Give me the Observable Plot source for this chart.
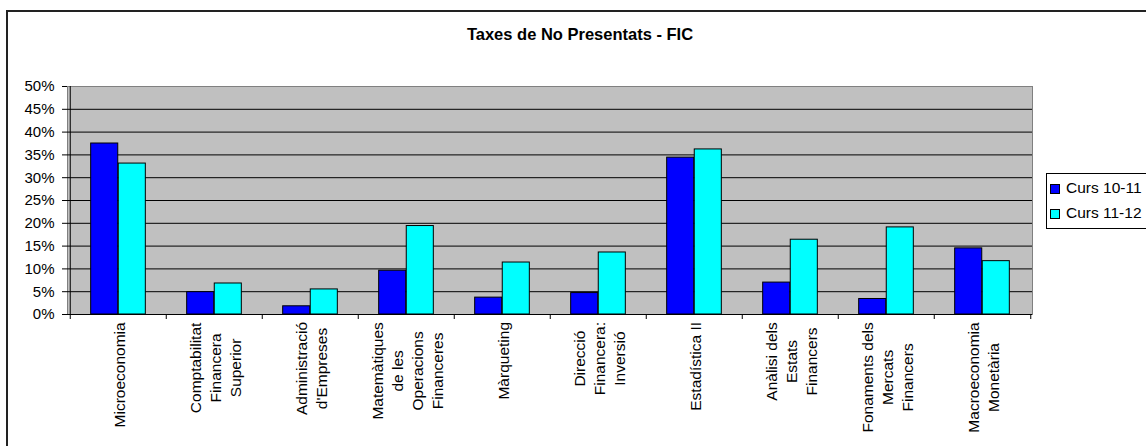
<!DOCTYPE html>
<html><head><meta charset="utf-8">
<script src="https://cdn.jsdelivr.net/npm/d3@7"></script>
<script src="https://cdn.jsdelivr.net/npm/@observablehq/plot@0.6"></script>
<style>
body{margin:0;background:#fff;}
#wrap{position:relative;width:1146px;height:446px;overflow:hidden;font-family:"Liberation Sans",Arial,sans-serif;color:#000;}
#border{position:absolute;left:6px;top:10px;width:1200px;height:500px;border:2px solid #222;box-sizing:border-box;}
#chart{position:absolute;left:0;top:0;}
#title{position:absolute;left:0;width:1160px;top:24px;text-align:center;font-weight:bold;font-size:16.5px;line-height:20px;}
#legend{position:absolute;left:1046px;top:173px;width:130px;height:56px;border:1px solid #000;background:#fff;box-sizing:border-box;font-size:15.5px;}
#legend .item{position:absolute;left:3px;height:20px;line-height:20px;white-space:nowrap;}
#legend .sw{display:inline-block;width:10px;height:10px;border:1px solid #000;box-sizing:border-box;margin-right:6px;vertical-align:-1px;}
</style>
</head><body>
<div id="wrap">
  <div id="border"></div>
  <div id="chart"></div>
  <div id="title"></div>
  <div id="legend"></div>
</div>
<script>
const titleText = "Taxes de No Presentats - FIC";
const categories = [
  "Microeconomia",
  "Comptabilitat\nFinancera\nSuperior",
  "Administració\nd'Empreses",
  "Matemàtiques\nde les\nOperacions\nFinanceres",
  "Màrqueting",
  "Direcció\nFinancera:\nInversió",
  "Estadística II",
  "Anàlisi dels\nEstats\nFinancers",
  "Fonaments dels\nMercats\nFinancers",
  "Macroeconomia\nMonetària"
];
const curs1011 = [0.375, 0.049, 0.018, 0.096, 0.037, 0.047, 0.344, 0.070, 0.034, 0.145];
const curs1112 = [0.331, 0.068, 0.055, 0.194, 0.114, 0.136, 0.362, 0.164, 0.191, 0.117];
const seriesNames = ["Curs 10-11", "Curs 11-12"];
const seriesColors = ["#0000FF", "#00FFFF"];
const yTicks = [0, 0.05, 0.10, 0.15, 0.20, 0.25, 0.30, 0.35, 0.40, 0.45, 0.50];

const W = 1146, H = 446, mL = 67, mR = 114, mT = 86, mB = 132;
const step = (W - mL - mR) / categories.length;
const bw = step / 3.5, outer = bw * 0.75;

const data = categories.flatMap((c, i) => [
  {cat: c, series: seriesNames[0], v: curs1011[i]},
  {cat: c, series: seriesNames[1], v: curs1112[i]}
]);

const plot = Plot.plot({
  width: W, height: H,
  marginLeft: mL, marginRight: mR, marginTop: mT, marginBottom: mB,
  style: {fontFamily: "'Liberation Sans', Arial, sans-serif", fontSize: "15px", background: "transparent", color: "#000", overflow: "visible"},
  x: {domain: categories, padding: 0},
  y: {domain: [0, 0.5]},
  color: {domain: seriesNames, range: seriesColors},
  marks: [
    Plot.frame({fill: "#c0c0c0", stroke: "#808080"}),
    Plot.ruleY(yTicks.filter(t => t > 0 && t < 0.5), {stroke: "#000"}),
    Plot.barY(data.filter(d => d.series === seriesNames[0]), {x: "cat", y: "v", fill: "series", stroke: "#000", strokeWidth: 1, insetLeft: outer, insetRight: step - outer - bw}),
    Plot.barY(data.filter(d => d.series === seriesNames[1]), {x: "cat", y: "v", fill: "series", stroke: "#000", strokeWidth: 1, insetLeft: outer + bw, insetRight: outer}),
    Plot.ruleY([0], {stroke: "#000"}),
    Plot.ruleX([categories[0]], {x: d => d, dx: -step / 2, stroke: "#000"}),
    Plot.ruleX(categories, {x: d => d, dx: -step / 2, y1: 0, y2: 0, insetBottom: -5, stroke: "#000"}),
    Plot.ruleX([categories[categories.length - 1]], {x: d => d, dx: step / 2, y1: 0, y2: 0, insetBottom: -5, stroke: "#000"}),
    Plot.axisY({ticks: yTicks, tickFormat: d3.format(".0%"), tickSize: 5, tickPadding: 8, label: null, fontSize: 15}),
    Plot.axisX({tickSize: 0, tickPadding: 9, rotate: -90, textAnchor: "middle", lineAnchor: "middle", lineHeight: 1.3, label: null, fontSize: 15.5})
  ]
});
document.getElementById("chart").appendChild(plot);

// align the top of every rotated category label just below the axis
const svgTop = plot.getBoundingClientRect().top;
const labelTop = 322;
plot.querySelectorAll('g[aria-label="x-axis tick label"] text').forEach(t => {
  const r = t.getBoundingClientRect();
  const shift = labelTop - (r.top - svgTop);
  t.setAttribute("transform", `translate(0,${shift}) ` + (t.getAttribute("transform") || ""));
});

document.getElementById("title").textContent = titleText;
const legend = document.getElementById("legend");
seriesNames.forEach((name, i) => {
  const item = document.createElement("div");
  item.className = "item";
  item.style.top = (4 + i * 25) + "px";
  const sw = document.createElement("span");
  sw.className = "sw";
  sw.style.background = seriesColors[i];
  item.appendChild(sw);
  item.appendChild(document.createTextNode(name));
  legend.appendChild(item);
});
</script>
</body></html>
